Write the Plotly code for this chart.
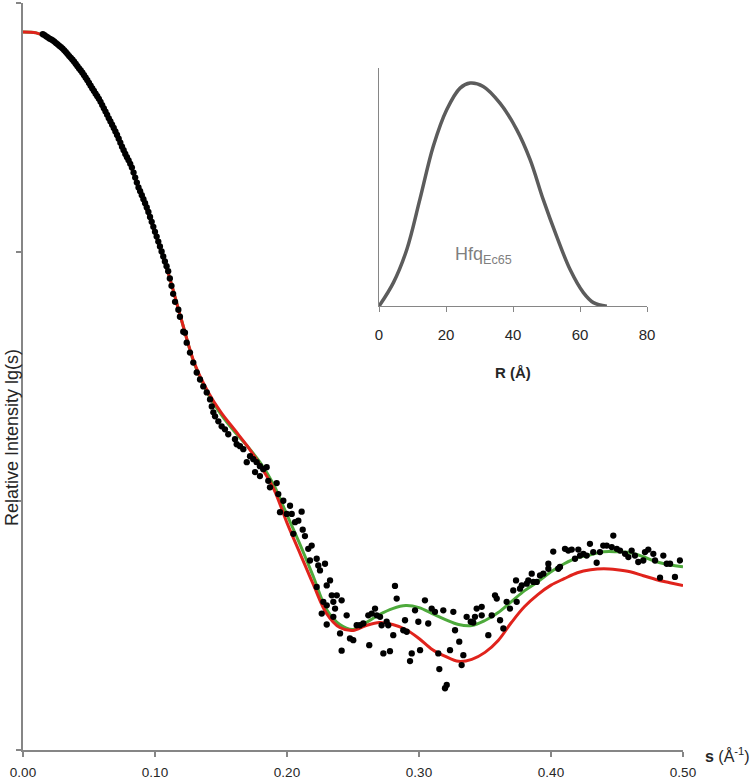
import plotly.graph_objects as go

# ---------------- data ----------------
s_fit = [0.00, 0.01, 0.02, 0.03, 0.04, 0.05, 0.06, 0.07, 0.08, 0.09,
         0.10, 0.11, 0.12, 0.13, 0.14, 0.15, 0.16, 0.17, 0.18, 0.19,
         0.20, 0.21, 0.22, 0.23, 0.24, 0.25, 0.26, 0.27, 0.28, 0.29,
         0.30, 0.31, 0.32, 0.33, 0.34, 0.35, 0.36, 0.37, 0.38, 0.39,
         0.40, 0.41, 0.42, 0.43, 0.44, 0.45, 0.46, 0.47, 0.48, 0.49, 0.50]

lg_fit_red = [2.884, 2.880, 2.858, 2.817, 2.753, 2.678, 2.590, 2.485, 2.368, 2.224,
              2.078, 1.916, 1.728, 1.552, 1.440, 1.356, 1.288, 1.220, 1.140, 1.048,
              0.912, 0.788, 0.664, 0.548, 0.492, 0.480, 0.500, 0.512, 0.504, 0.484,
              0.448, 0.404, 0.376, 0.356, 0.364, 0.392, 0.440, 0.512, 0.576, 0.624,
              0.662, 0.688, 0.712, 0.724, 0.728, 0.724, 0.716, 0.700, 0.684, 0.672, 0.660]

lg_fit_green = [2.884, 2.880, 2.858, 2.817, 2.753, 2.678, 2.590, 2.485, 2.368, 2.224,
                2.078, 1.916, 1.728, 1.548, 1.432, 1.348, 1.280, 1.220, 1.152, 1.064,
                0.944, 0.824, 0.696, 0.564, 0.504, 0.484, 0.512, 0.544, 0.568, 0.580,
                0.572, 0.548, 0.524, 0.504, 0.500, 0.520, 0.552, 0.596, 0.640, 0.676,
                0.716, 0.748, 0.772, 0.784, 0.796, 0.796, 0.792, 0.776, 0.756, 0.744, 0.736]

# measured points: dense low-s band
s_obs_low = [0.01500, 0.01625, 0.01750, 0.01875, 0.02000, 0.02125, 0.02250, 0.02375,
             0.02500, 0.02625, 0.02750, 0.02875, 0.03000, 0.03125, 0.03250, 0.03375,
             0.03500, 0.03625, 0.03750, 0.03875, 0.04000, 0.04125, 0.04250, 0.04375,
             0.04500, 0.04625, 0.04750, 0.04875, 0.05000, 0.05125, 0.05250, 0.05375,
             0.05500, 0.05625, 0.05750, 0.05875, 0.06000, 0.06125, 0.06250, 0.06375,
             0.06500, 0.06625, 0.06750, 0.06875, 0.07000, 0.07125, 0.07250, 0.07375,
             0.07500, 0.07625, 0.07750, 0.07875, 0.08000, 0.08125, 0.08250, 0.08375,
             0.08500, 0.08625, 0.08750, 0.08875, 0.09000, 0.09125, 0.09250, 0.09375,
             0.09500, 0.09625, 0.09750, 0.09875, 0.10000, 0.10125, 0.10250, 0.10375,
             0.10500, 0.10625, 0.10750, 0.10875, 0.11000, 0.11125, 0.11250, 0.11375]
lg_obs_low = [2.875, 2.871, 2.866, 2.862, 2.857, 2.854, 2.850, 2.845,
              2.839, 2.834, 2.828, 2.823, 2.817, 2.810, 2.803, 2.795,
              2.787, 2.780, 2.772, 2.764, 2.755, 2.746, 2.737, 2.729,
              2.720, 2.710, 2.700, 2.690, 2.679, 2.668, 2.657, 2.647,
              2.636, 2.626, 2.615, 2.603, 2.590, 2.577, 2.564, 2.551,
              2.537, 2.524, 2.511, 2.498, 2.484, 2.470, 2.455, 2.439,
              2.423, 2.409, 2.394, 2.381, 2.368, 2.354, 2.339, 2.319,
              2.299, 2.279, 2.259, 2.244, 2.228, 2.212, 2.196, 2.179,
              2.161, 2.141, 2.121, 2.101, 2.081, 2.062, 2.042, 2.022,
              2.002, 1.982, 1.962, 1.943, 1.923, 1.894, 1.864, 1.832]

# measured points: scattered high-s part
s_obs_high = [0.1152, 0.1177, 0.1189, 0.1214, 0.1227, 0.1240, 0.1265, 0.1290, 0.1316, 0.1341,
              0.1366, 0.1392, 0.1417, 0.1430, 0.1442, 0.1455, 0.1480, 0.1505, 0.1530, 0.1555,
              0.1606, 0.1619, 0.1644, 0.1669, 0.1695, 0.1720, 0.1745, 0.1758, 0.1770, 0.1795,
              0.1795, 0.1820, 0.1846, 0.1858, 0.1871, 0.1922, 0.1934, 0.1947, 0.1972, 0.1998,
              0.2023, 0.2036, 0.2048, 0.2061, 0.2086, 0.2111, 0.2119, 0.2136, 0.2161, 0.2174,
              0.2187, 0.2225, 0.2225, 0.2237, 0.2250, 0.2263, 0.2275, 0.2288, 0.2301, 0.2301,
              0.2301, 0.2326, 0.2339, 0.2351, 0.2351, 0.2364, 0.2377, 0.2402, 0.2414, 0.2414,
              0.2452, 0.2477, 0.2502, 0.2528, 0.2553, 0.2578, 0.2616, 0.2623, 0.2642, 0.2667,
              0.2680, 0.2705, 0.2717, 0.2730, 0.2755, 0.2767, 0.2780, 0.2805, 0.2818, 0.2831,
              0.2881, 0.2894, 0.2907, 0.2932, 0.2945, 0.2970, 0.2995, 0.3008, 0.3045, 0.3070,
              0.3096, 0.3121, 0.3146, 0.3154, 0.3184, 0.3197, 0.3210, 0.3235, 0.3260, 0.3273,
              0.3305, 0.3323, 0.3336, 0.3361, 0.3392, 0.3411, 0.3424, 0.3437, 0.3475, 0.3475,
              0.3525, 0.3551, 0.3576, 0.3589, 0.3614, 0.3639, 0.3664, 0.3689, 0.3714, 0.3735,
              0.3740, 0.3765, 0.3778, 0.3816, 0.3828, 0.3854, 0.3866, 0.3892, 0.3917, 0.3942,
              0.3980, 0.3980, 0.4017, 0.4055, 0.4068, 0.4106, 0.4131, 0.4157, 0.4182, 0.4207,
              0.4220, 0.4245, 0.4270, 0.4295, 0.4320, 0.4346, 0.4371, 0.4396, 0.4422, 0.4460,
              0.4472, 0.4498, 0.4523, 0.4561, 0.4586, 0.4611, 0.4636, 0.4661, 0.4699, 0.4712,
              0.4737, 0.4775, 0.4788, 0.4826, 0.4851, 0.4877, 0.4902, 0.4939, 0.4977]
lg_obs_high = [1.800, 1.768, 1.740, 1.680, 1.676, 1.636, 1.596, 1.556, 1.516, 1.488,
               1.460, 1.436, 1.408, 1.380, 1.356, 1.340, 1.320, 1.300, 1.288, 1.268,
               1.248, 1.228, 1.220, 1.208, 1.156, 1.180, 1.168, 1.116, 1.156, 1.140,
               1.100, 1.128, 1.136, 1.081, 1.055, 1.072, 1.028, 0.955, 1.001, 0.948,
               0.981, 0.948, 0.868, 0.915, 0.921, 0.957, 0.885, 0.859, 0.808, 0.761,
               0.821, 0.768, 0.655, 0.741, 0.721, 0.548, 0.595, 0.748, 0.661, 0.581,
               0.504, 0.681, 0.621, 0.595, 0.535, 0.568, 0.621, 0.468, 0.601, 0.399,
               0.541, 0.448, 0.441, 0.501, 0.501, 0.508, 0.541, 0.421, 0.548, 0.568,
               0.541, 0.535, 0.501, 0.388, 0.515, 0.501, 0.397, 0.461, 0.659, 0.608,
               0.481, 0.521, 0.475, 0.357, 0.388, 0.561, 0.515, 0.401, 0.601, 0.508,
               0.568, 0.555, 0.388, 0.325, 0.561, 0.248, 0.261, 0.401, 0.555, 0.481,
               0.435, 0.341, 0.381, 0.535, 0.515, 0.512, 0.535, 0.568, 0.575, 0.541,
               0.461, 0.541, 0.621, 0.608, 0.521, 0.488, 0.595, 0.568, 0.641, 0.681,
               0.595, 0.648, 0.661, 0.668, 0.681, 0.708, 0.675, 0.675, 0.701, 0.708,
               0.748, 0.728, 0.797, 0.728, 0.735, 0.808, 0.801, 0.805, 0.768, 0.805,
               0.781, 0.788, 0.781, 0.828, 0.795, 0.752, 0.795, 0.821, 0.821, 0.815,
               0.861, 0.808, 0.801, 0.788, 0.775, 0.801, 0.781, 0.755, 0.761, 0.795,
               0.805, 0.788, 0.761, 0.692, 0.781, 0.748, 0.748, 0.695, 0.761]

s_obs = s_obs_low + s_obs_high
lg_obs = lg_obs_low + lg_obs_high

# distance distribution (inset)
r_pr = [0.0, 4.3, 8.3, 12.2, 16.2, 20.2, 24.2, 27.2, 31.1, 36.1,
        41.1, 45.1, 49.0, 53.0, 57.0, 61.0, 64.0, 68.0]
p_pr = [0.000, 0.099, 0.238, 0.448, 0.671, 0.824, 0.915, 0.936, 0.922, 0.852,
        0.741, 0.615, 0.448, 0.294, 0.155, 0.057, 0.015, 0.000]

s_ticks = [0.0, 0.1, 0.2, 0.3, 0.4, 0.5]
s_ticklabels = ["0.00", "0.10", "0.20", "0.30", "0.40", "0.50"]
lg_ticks = [0, 1, 2, 3]
r_ticks = [0, 20, 40, 60, 80]

# ---------------- figure ----------------
AX = "#868686"
FONT = "Liberation Sans"
TXT = "#262626"

fig = go.Figure()

fig.add_trace(go.Scatter(x=s_fit, y=lg_fit_green, mode="lines",
                         line=dict(color="#4eaa3c", width=3, shape="spline"),
                         xaxis="x", yaxis="y", showlegend=False, hoverinfo="skip"))
fig.add_trace(go.Scatter(x=s_fit, y=lg_fit_red, mode="lines",
                         line=dict(color="#e0231c", width=3, shape="spline"),
                         xaxis="x", yaxis="y", showlegend=False, hoverinfo="skip"))
fig.add_trace(go.Scatter(x=s_obs, y=lg_obs, mode="markers",
                         marker=dict(color="#000000", size=6.3, line=dict(width=0)),
                         xaxis="x", yaxis="y", showlegend=False))
fig.add_trace(go.Scatter(x=r_pr, y=p_pr, mode="lines",
                         line=dict(color="#5c5c5c", width=3.5, shape="spline"),
                         xaxis="x2", yaxis="y2", showlegend=False))

fig.update_layout(
    width=750, height=783,
    margin=dict(l=23, r=67, t=3, b=31),
    paper_bgcolor="white", plot_bgcolor="white",
    font=dict(family=FONT, color=TXT),
    xaxis=dict(domain=[0, 1], range=[0, 0.5], tickvals=s_ticks, ticktext=s_ticklabels,
               showline=True, linecolor=AX, linewidth=1.5, ticks="outside", ticklen=5,
               tickcolor=AX, tickwidth=1.5, showgrid=False, zeroline=False,
               tickfont=dict(family=FONT, size=13.5, color=TXT), ticklabelstandoff=4),
    yaxis=dict(domain=[0, 1], range=[0, 3], tickvals=lg_ticks, showticklabels=False,
               showline=True, linecolor=AX, linewidth=1.5, ticks="outside", ticklen=5,
               tickcolor=AX, tickwidth=1.5, showgrid=False, zeroline=False),
    xaxis2=dict(domain=[0.5394, 0.9455], anchor="y2", range=[0, 80], tickvals=r_ticks,
                showline=True, linecolor=AX, linewidth=1, ticks="outside", ticklen=5,
                tickcolor=AX, showgrid=False, zeroline=False,
                tickfont=dict(family=FONT, size=15, color=TXT), ticklabelstandoff=10),
    yaxis2=dict(domain=[0.5941, 0.9132], anchor="x2", range=[0, 1], showticklabels=False,
                showline=True, linecolor=AX, linewidth=1, ticks="", showgrid=False,
                zeroline=False),
    annotations=[
        dict(text="Relative Intensity lg(s)", textangle=-90, xref="paper", yref="paper",
             x=-0.0167, y=0.419, xanchor="center", yanchor="middle", showarrow=False,
             font=dict(family=FONT, size=18, color=TXT)),
        dict(text="<b>s</b> (Å<sup>-1</sup>)", xref="paper", yref="paper",
             x=1.0667, y=-0.0067, xanchor="center", yanchor="middle", showarrow=False,
             font=dict(family=FONT, size=16, color=TXT)),
        dict(text="<b>R (Å)</b>", xref="paper", yref="paper",
             x=0.7424, y=0.506, xanchor="center", yanchor="middle", showarrow=False,
             font=dict(family=FONT, size=15, color=TXT)),
        dict(text="Hfq<sub>Ec65</sub>", xref="x2", yref="y2",
             x=22.1, y=0.213, xanchor="left", yanchor="middle", showarrow=False,
             font=dict(family=FONT, size=18, color="#7f7f7f")),
    ],
)

fig.write_html("out.html", config={"displayModeBar": False},
               post_script="document.body.style.margin='0px';document.body.style.overflow='hidden';")
